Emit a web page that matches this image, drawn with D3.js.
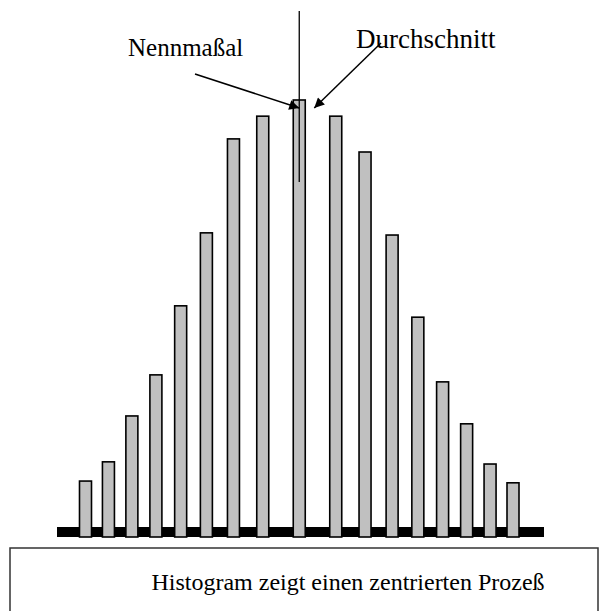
<!DOCTYPE html>
<html><head><meta charset="utf-8">
<script src="https://cdn.jsdelivr.net/npm/d3@7"></script>
<style>html,body{margin:0;padding:0;background:#fff;}svg{display:block;}</style>
</head><body>
<svg id="chart" width="611" height="611"></svg>
<script>
// Data: class offset from nominal size and frequency (relative, peak = 100)
const categories = [-8,-7,-6,-5,-4,-3,-2,-1,0,1,2,3,4,5,6,7,8];
const frequencies = [12.8,17.2,27.7,37.1,52.9,69.6,91.1,96.3,100,96.3,88.1,69.1,50.3,35.5,25.9,16.7,12.4];
const labelNominal = "Nennmaßal";
const labelMean = "Durchschnitt";
const caption = "Histogram zeigt einen zentrierten Prozeß";

const svg = d3.select("#chart");
const FONT = '"Liberation Serif"';

const x = d3.scalePow().exponent(0.85).domain([-8, 8]).range([85.5, 513]);
const y = d3.scaleLinear().domain([0, 100]).range([537, 100]);
const barW = 12;

const defs = svg.append("defs");
defs.append("marker").attr("id","arr").attr("viewBox","0 0 10 10")
  .attr("refX",10).attr("refY",5).attr("markerWidth",12).attr("markerHeight",10)
  .attr("markerUnits","userSpaceOnUse").attr("orient","auto")
  .append("path").attr("d","M0,0 L10,5 L0,10 Z").attr("fill","#000");

// baseline (drawn under bars)
svg.append("rect").attr("x", 57).attr("y", 527).attr("width", 544 - 57).attr("height", 10).attr("fill", "#000");

// bars
svg.append("g").selectAll("rect").data(categories).join("rect")
  .attr("x", d => x(d) - barW / 2)
  .attr("y", (d, i) => y(frequencies[i]))
  .attr("width", barW)
  .attr("height", (d, i) => y(0) - y(frequencies[i]))
  .attr("fill", "#c0c0c0").attr("stroke", "#000").attr("stroke-width", 1.6);

// nominal vertical line
svg.append("line").attr("x1", x(0)).attr("x2", x(0)).attr("y1", 11).attr("y2", 182)
  .attr("stroke", "#000").attr("stroke-width", 1.3);

// arrows
svg.append("line").attr("x1", 195).attr("y1", 74).attr("x2", x(0)).attr("y2", 108)
  .attr("stroke", "#000").attr("stroke-width", 1.5).attr("marker-end", "url(#arr)");
svg.append("line").attr("x1", 381).attr("y1", 43).attr("x2", x(0) + 15).attr("y2", 108)
  .attr("stroke", "#000").attr("stroke-width", 1.5).attr("marker-end", "url(#arr)");

// labels
svg.append("text").attr("x", 128).attr("y", 56).style("font-family", FONT).attr("font-size", 25)
  .attr("fill", "#000").text(labelNominal);
svg.append("text").attr("x", 356).attr("y", 48).style("font-family", FONT).attr("font-size", 27)
  .attr("fill", "#000").text(labelMean);

// caption box
svg.append("path").attr("d", "M10,620 V548 H598 V620").attr("fill", "none")
  .attr("stroke", "#333").attr("stroke-width", 1.5);
svg.append("text").attr("x", 348).attr("y", 590).attr("text-anchor", "middle")
  .style("font-family", FONT).attr("font-size", 24).attr("fill", "#000").text(caption);
</script>
</body></html>
